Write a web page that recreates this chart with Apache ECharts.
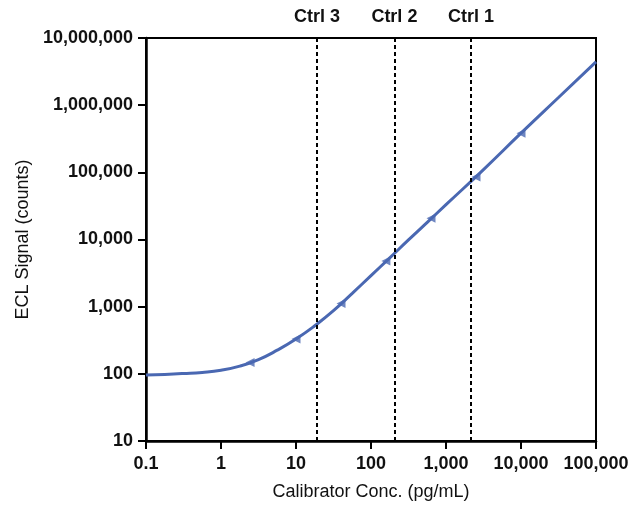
<!DOCTYPE html>
<html>
<head>
<meta charset="utf-8">
<script src="https://cdn.jsdelivr.net/npm/echarts@6/dist/echarts.min.js"></script>
<style>html,body{margin:0;padding:0;background:#fff}#c{width:632px;height:506px}</style>
</head>
<body>
<div id="c"></div>
<script>
// Fitted curve points (conc pg/mL, signal counts)
const curveX = [0.1, 0.178, 0.316, 0.562, 1, 1.78, 3.16, 5.62, 10, 17.8, 31.6, 56.2, 100, 178, 316, 562, 1000, 3162, 10000, 31623, 100000];
const curveY = [96, 98, 101, 105, 113, 130, 163, 225, 330, 520, 870, 1580, 2900, 5330, 9850, 18000, 33000, 110000, 383000, 1300000, 4400000];
// Calibrator points
const calX = [2.44, 10, 39.8, 158, 631, 2512, 10000];
const calY = [147, 330, 1110, 4770, 20800, 85000, 383000];
// Control concentrations
const ctrlNames = ['Ctrl 3', 'Ctrl 2', 'Ctrl 1'];
const ctrlX = [19, 205, 2150];
// Tick labels
const xTickLabels = ['0.1', '1', '10', '100', '1,000', '10,000', '100,000'];
const yTickLabels = ['10', '100', '1,000', '10,000', '100,000', '1,000,000', '10,000,000'];

const chart = echarts.init(document.getElementById('c'));
const blue = '#4a68b2';
const font = 'Liberation Sans, Arial, sans-serif';

chart.setOption({
  animation: false,
  grid: { left: 146, right: 36, top: 38, bottom: 65, show: true, borderColor: '#000', borderWidth: 2 },
  xAxis: {
    type: 'log', logBase: 10, min: 0.1, max: 100000,
    name: 'Calibrator Conc. (pg/mL)', nameLocation: 'middle', nameGap: 42,
    nameTextStyle: { fontFamily: font, fontSize: 18, color: '#111' },
    axisLine: { lineStyle: { color: '#000', width: 2.5 } },
    axisTick: { show: true, length: 8, lineStyle: { color: '#000', width: 2 } },
    minorTick: { show: false },
    splitLine: { show: false },
    axisLabel: {
      fontFamily: font, fontSize: 18, fontWeight: 'bold', color: '#111', margin: 14,
      formatter: v => xTickLabels[Math.round(Math.log10(v)) + 1]
    }
  },
  yAxis: {
    type: 'log', logBase: 10, min: 10, max: 10000000,
    name: 'ECL Signal (counts)', nameLocation: 'middle', nameGap: 114,
    nameTextStyle: { fontFamily: font, fontSize: 18, color: '#111' },
    axisLine: { lineStyle: { color: '#000', width: 2.5 } },
    axisTick: { show: true, length: 8, lineStyle: { color: '#000', width: 2 } },
    splitLine: { show: false },
    axisLabel: {
      fontFamily: font, fontSize: 18, fontWeight: 'bold', color: '#111', margin: 13,
      formatter: v => yTickLabels[Math.round(Math.log10(v)) - 1]
    }
  },
  series: [
    {
      type: 'line', smooth: 0.5, showSymbol: false,
      data: curveX.map((x, i) => [x, curveY[i]]),
      lineStyle: { color: blue, width: 3 },
      markLine: {
        silent: true, symbol: 'none',
        lineStyle: { color: '#000', width: 2, type: [4, 3] },
        label: { show: true, position: 'end', distance: 12, formatter: p => p.name,
                 fontFamily: font, fontSize: 18, fontWeight: 'bold', color: '#111' },
        data: ctrlX.map((x, i) => ({ name: ctrlNames[i], xAxis: x }))
      }
    },
    {
      type: 'scatter', symbol: 'triangle', symbolRotate: 90, symbolSize: 9,
      data: calX.map((x, i) => [x, calY[i]]),
      itemStyle: { color: blue }
    }
  ]
});
</script>
</body>
</html>
